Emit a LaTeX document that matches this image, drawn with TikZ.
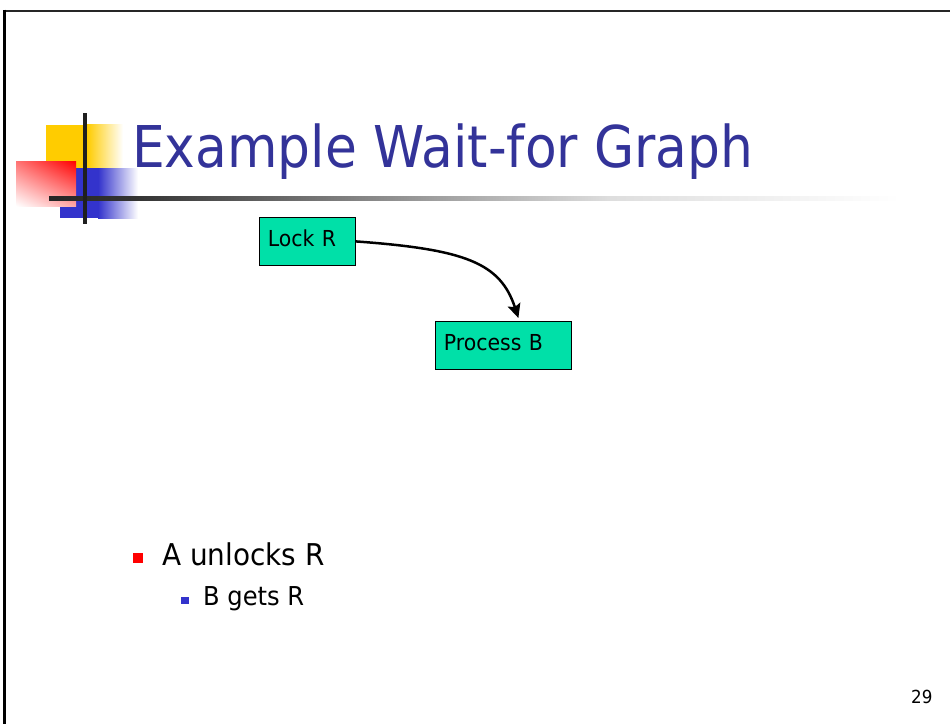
\documentclass[tikz,border=0pt]{standalone}
\usepackage{fontspec}
\usetikzlibrary{arrows.meta,shadings}
\newfontfamily\titlefont[FakeStretch=0.9]{DejaVu Sans}
\newfontfamily\bodyfont[FakeStretch=0.93]{DejaVu Sans}
\definecolor{titleblue}{HTML}{333399}
\definecolor{bulletblue}{HTML}{3333CC}
\definecolor{boxgreen}{HTML}{00E0A8}
\definecolor{logoyellow}{HTML}{FFCC00}
\definecolor{logoblue}{HTML}{3333CC}
% grey rule under the title, fading out to the right
\pgfdeclarehorizontalshading{rulefade}{100bp}{color(0bp)=(black!85); color(25bp)=(black!85); color(30bp)=(black!80); color(58bp)=(black!13); color(75bp)=(white); color(100bp)=(white)}
\tikzset{
  graphbox/.style={draw=black, line width=0.8pt, fill=boxgreen, anchor=north west,
    minimum height=48pt, inner xsep=8.5pt, inner ysep=0pt, align=left,
    text height=16pt, text depth=5pt, font=\bodyfont\fontsize{22}{24}\selectfont},
  waitedge/.style={line width=2.5pt, -{Stealth[length=14pt, width=13pt, inset=2.5pt]}},
  plaintext/.style={anchor=base west, inner sep=0pt},
  bulletsq/.style={inner sep=0pt}
}
\begin{document}
\begin{tikzpicture}[x=1pt,y=-1pt]
\useasboundingbox (0,0) rectangle (950,724);
% slide frame
\draw[line width=2pt, black!85] (3,10.5) -- (950,10.5);
\draw[line width=2.5pt, black] (4.25,9.5) -- (4.25,724);

% corner logo
\fill[logoyellow] (46,124.5) rectangle (87,168);
\shade[left color=logoyellow, right color=white] (87,124) rectangle (123,168);
\fill[logoblue] (60,168) rectangle (98,218);
\shade[left color=logoblue, right color=white] (98,168) rectangle (138,218);
\shade[upper left=red!55!white, upper right=red, lower left=white, lower right=red!35!white]
  (16,161) rectangle (76,206);
\shade[shading=rulefade] (49,196) rectangle (900,200);
\draw[line width=4pt, black!88] (85,113) -- (85,224);

% title
\node[plaintext, font=\titlefont\fontsize{57.6}{60}\selectfont, text=titleblue]
  (title) at (132,167) {Example Wait-for Graph};

% wait-for graph
\node[graphbox, text width=79pt] (lockR) at (259,217) {Lock R};
\node[graphbox, text width=119pt] (procB) at (435,321) {Process B};
\draw[waitedge] (lockR.east) .. controls +(110,8) and +(-18,-55) .. ([shift={(15,-3)}]procB.north);

% bullet list
\node[bulletsq, fill=red, minimum size=10pt] (bulA) at (138,558) {};
\node[plaintext, font=\bodyfont\fontsize{30}{32}\selectfont] (itemA) at (162,565) {A unlocks R};
\node[bulletsq, fill=bulletblue, minimum size=7.5pt] (bulB) at (185,600.5) {};
\node[plaintext, font=\bodyfont\fontsize{26}{28}\selectfont] (itemB) at (203,605) {B gets R};

% page number
\node[plaintext, font=\bodyfont\fontsize{18}{20}\selectfont] (pagenum) at (911,703) {29};
\end{tikzpicture}
\end{document}
